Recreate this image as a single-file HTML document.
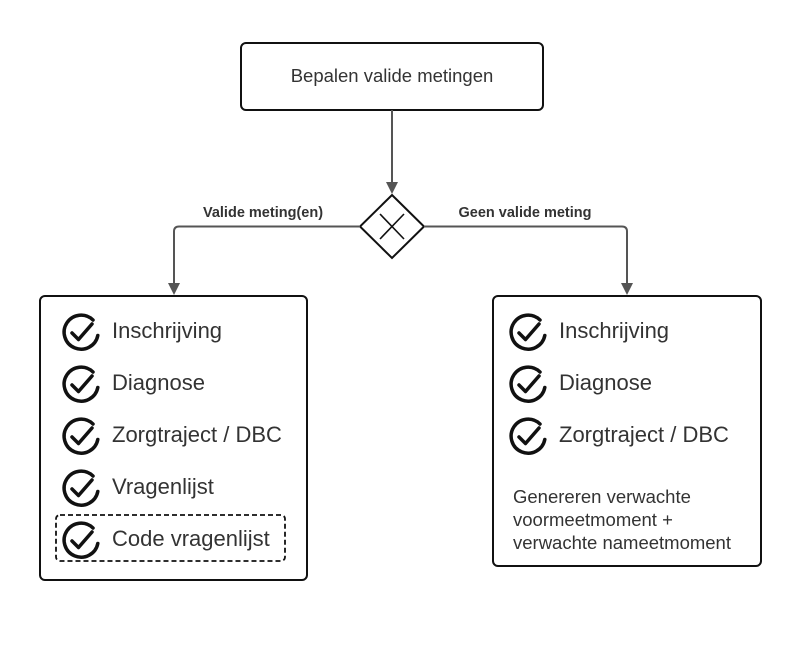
<!DOCTYPE html>
<html><head><meta charset="utf-8"><style>
html,body{margin:0;padding:0;background:#fff;}
svg{display:block;}
text{font-family:"Liberation Sans",Arial,sans-serif;fill:#333;}
</style></head><body>
<svg width="800" height="653" viewBox="0 0 800 653" xmlns="http://www.w3.org/2000/svg">
<defs>
<g id="chk">
<path d="M 12 -12 A 17 17 0 1 0 16.8 3.5" fill="none" stroke="#111" stroke-width="3.5" stroke-linecap="round"/>
<path d="M -9 1 L -2.5 7.5 L 11 -8" fill="none" stroke="#111" stroke-width="3.5" stroke-linecap="round" stroke-linejoin="round"/>
</g>
</defs>
<rect x="241" y="43" width="302" height="67" rx="5" fill="#fff" stroke="#111" stroke-width="2"/>
<text x="392" y="82" font-size="18.5" text-anchor="middle">Bepalen valide metingen</text>

<line x1="392" y1="110" x2="392" y2="183" stroke="#555" stroke-width="2"/>
<polygon points="386,182 398,182 392,194" fill="#555"/>

<polygon points="392,195 424,226.5 392,258 360,226.5" fill="#fff" stroke="#111" stroke-width="2"/>
<line x1="380" y1="214" x2="404" y2="239" stroke="#111" stroke-width="1.6"/>
<line x1="404" y1="214" x2="380" y2="239" stroke="#111" stroke-width="1.6"/>

<path d="M 360 226.5 L 179 226.5 Q 174 226.5 174 231.5 L 174 284" fill="none" stroke="#555" stroke-width="2"/>
<polygon points="168,283 180,283 174,295" fill="#555"/>
<path d="M 424 226.5 L 622 226.5 Q 627 226.5 627 231.5 L 627 284" fill="none" stroke="#555" stroke-width="2"/>
<polygon points="621,283 633,283 627,295" fill="#555"/>

<text x="263" y="217" font-size="14.5" font-weight="bold" text-anchor="middle">Valide meting(en)</text>
<text x="525" y="217" font-size="14.5" font-weight="bold" text-anchor="middle">Geen valide meting</text>

<rect x="40" y="296" width="267" height="284" rx="5" fill="#fff" stroke="#111" stroke-width="2"/>
<rect x="56" y="515" width="229" height="46" rx="4" fill="none" stroke="#111" stroke-width="1.8" stroke-dasharray="5,3"/>
<use href="#chk" x="81" y="332"/>
<use href="#chk" x="81" y="384"/>
<use href="#chk" x="81" y="436"/>
<use href="#chk" x="81" y="488"/>
<use href="#chk" x="81" y="540"/>
<text x="112" y="338" font-size="22">Inschrijving</text>
<text x="112" y="390" font-size="22">Diagnose</text>
<text x="112" y="442" font-size="22">Zorgtraject / DBC</text>
<text x="112" y="494" font-size="22">Vragenlijst</text>
<text x="112" y="546" font-size="22">Code vragenlijst</text>

<rect x="493" y="296" width="268" height="270" rx="5" fill="#fff" stroke="#111" stroke-width="2"/>
<use href="#chk" x="528" y="332"/>
<use href="#chk" x="528" y="384"/>
<use href="#chk" x="528" y="436"/>
<text x="559" y="338" font-size="22">Inschrijving</text>
<text x="559" y="390" font-size="22">Diagnose</text>
<text x="559" y="442" font-size="22">Zorgtraject / DBC</text>
<text x="513" y="503" font-size="18.5">Genereren verwachte</text>
<text x="513" y="526" font-size="18.5">voormeetmoment +</text>
<text x="513" y="549" font-size="18.5">verwachte nameetmoment</text>
</svg>
</body></html>
